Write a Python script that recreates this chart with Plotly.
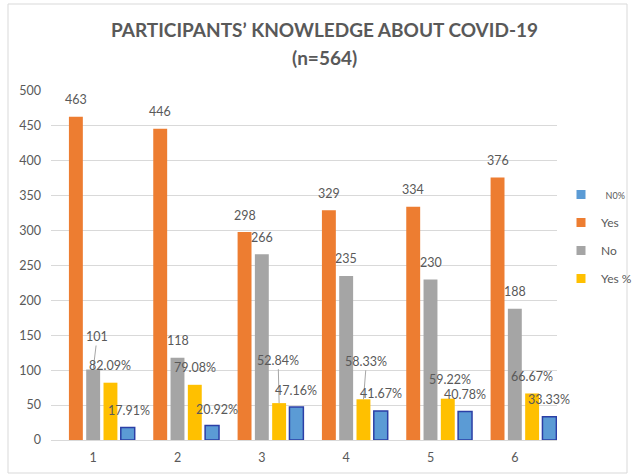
import plotly.graph_objects as go

# ---- data ----
categories = ["1", "2", "3", "4", "5", "6"]
positions = [1, 2, 3, 4, 5, 6]
yes_counts = [463, 446, 298, 329, 334, 376]
no_counts = [101, 118, 266, 235, 230, 188]
yes_pct = [82.09, 79.08, 52.84, 58.33, 59.22, 66.67]
no_pct = [17.91, 20.92, 47.16, 41.67, 40.78, 33.33]
y_ticks = [0, 50, 100, 150, 200, 250, 300, 350, 400, 450, 500]

title_line1 = "PARTICIPANTS’ KNOWLEDGE ABOUT COVID-19"
title_line2 = "(n=564)"

# ---- layout geometry (pixels) ----
W, H = 632, 475
PL, PR, PT, PB = 51, 557, 91, 440
PW, PH = PR - PL, PB - PT

def px_x(px):
    return (px - PL) / PW

def px_y(py):
    return (PB - py) / PH

TEXT = "#595959"
GRID = "#d9d9d9"
FONT = "Lato"

SLOT = 0.205
BAR_W = 0.165

series = [
    dict(name="Yes", values=yes_counts, color="#ED7D31", slot=-1,
         line=None, fmt=lambda v: f"{v:d}"),
    dict(name="No", values=no_counts, color="#A5A5A5", slot=0,
         line=None, fmt=lambda v: f"{v:d}"),
    dict(name="Yes %", values=yes_pct, color="#FFC000", slot=1,
         line=None, fmt=lambda v: f"{v:.2f}%"),
    dict(name="N0%", values=no_pct, color="#5B9BD5", slot=2,
         line="#2B3FA6", fmt=lambda v: f"{v:.2f}%"),
]

# label placement tweaks: (series name, index) -> (dx px, rise px, leader line)
label_tweaks = {
    ("No", 0): (4, 33, True),
    ("Yes %", 2): (-1, 43, True),
    ("Yes %", 3): (3, 38, True),
    ("N0%", 0): (1, 17, False),
    ("N0%", 1): (5, 16, False),
    ("Yes %", 4): (2, 19, False),
}
DEFAULT_RISE = 17

fig = go.Figure()

for s in series:
    off = s["slot"] * SLOT - BAR_W / 2
    fig.add_trace(go.Bar(
        x=positions, y=s["values"], name=s["name"],
        offset=off, width=BAR_W,
        marker=dict(color=s["color"],
                    line=dict(color=s["line"] or s["color"],
                              width=1.5 if s["line"] else 0)),
        showlegend=False, hoverinfo="x+y",
    ))

# legend entries (square swatches)
legend_order = ["N0%", "Yes", "No", "Yes %"]
legend_labels = {
    "N0%": "<span style='font-size:9px'>&nbsp;&nbsp;N0%</span>",
    "Yes": "Yes", "No": "No", "Yes %": "Yes %",
}
color_of = {s["name"]: s["color"] for s in series}
for nm in legend_order:
    fig.add_trace(go.Scatter(
        x=[None], y=[None], mode="markers", name=legend_labels[nm],
        legendgroup=nm,
        marker=dict(symbol="square", size=9, color=color_of[nm]),
        showlegend=True, hoverinfo="skip",
    ))

# data labels
annotations = []
for s in series:
    for i, v in enumerate(s["values"]):
        xpos = positions[i] + s["slot"] * SLOT
        dx, rise, leader = label_tweaks.get((s["name"], i), (0, DEFAULT_RISE, False))
        base = dict(x=xpos, y=v, xref="x", yref="y", text=s["fmt"](v),
                    font=dict(family=FONT, size=12.5, color=TEXT))
        if leader:
            annotations.append(dict(
                **base, showarrow=True, ax=dx, ay=-rise, arrowhead=0,
                arrowwidth=1, arrowcolor="#a6a6a6", standoff=0,
            ))
        else:
            annotations.append(dict(
                **base, showarrow=False, xshift=dx, yshift=rise,
                xanchor="center", yanchor="middle",
            ))

annotations.append(dict(
    text=f"<b>{title_line2}</b>", xref="paper", yref="paper",
    x=px_x(324.5), y=px_y(58), showarrow=False,
    xanchor="center", yanchor="middle",
    font=dict(family=FONT, size=19, color=TEXT),
))

fig.update_layout(
    width=W, height=H,
    margin=dict(l=PL, r=W - PR, t=PT, b=H - PB, autoexpand=False),
    paper_bgcolor="white", plot_bgcolor="white",
    barmode="overlay",
    title=dict(text=f"<b>{title_line1}</b>", xref="container", yref="container",
               x=324.5 / W, y=1 - 30 / H, xanchor="center", yanchor="middle",
               font=dict(family=FONT, size=19, color=TEXT)),
    xaxis=dict(range=[0.5, 6.5], tickmode="array", tickvals=positions,
               ticktext=categories, showgrid=False, zeroline=False,
               showline=False, ticks="", ticklabelstandoff=8,
               tickfont=dict(family=FONT, size=12.5, color=TEXT)),
    yaxis=dict(range=[0, 500], tickmode="array", tickvals=y_ticks,
               showgrid=True, gridcolor=GRID, gridwidth=1,
               zeroline=True, zerolinecolor=GRID, zerolinewidth=1,
               showline=False, ticks="", ticklabelstandoff=9,
               tickfont=dict(family=FONT, size=12.5, color=TEXT)),
    legend=dict(x=px_x(561), y=px_y(180), xanchor="left", yanchor="top",
                xref="paper", yref="paper", tracegroupgap=9,
                font=dict(family=FONT, size=12, color=TEXT),
                bgcolor="rgba(0,0,0,0)", itemwidth=30),
    annotations=annotations,
    shapes=[dict(type="rect", xref="paper", yref="paper",
                 x0=px_x(8), x1=px_x(627), y0=px_y(473), y1=px_y(4),
                 line=dict(color=GRID, width=1), fillcolor="rgba(0,0,0,0)",
                 layer="below")],
    showlegend=True,
)

fig.write_html("out.html")
